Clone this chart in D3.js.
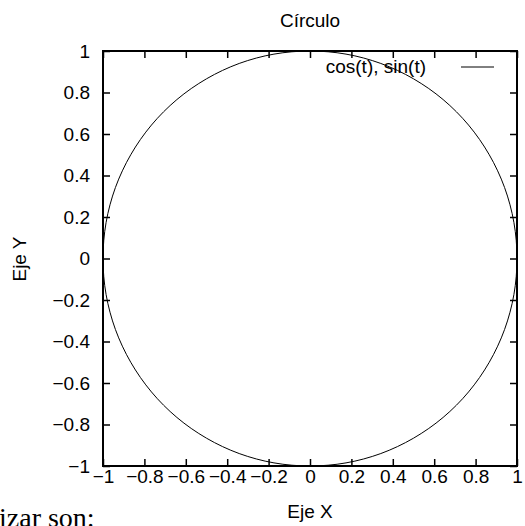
<!DOCTYPE html>
<html>
<head>
<meta charset="utf-8">
<script src="https://cdn.jsdelivr.net/npm/d3@7"></script>
<style>
    html, body { margin: 0; padding: 0; background: #fff; }
    svg { display: block; font-family: "Liberation Sans", Arial, sans-serif; }
</style>
</head>
<body>
<svg id="chart" width="525" height="526"></svg>
<script>
// Tick values for both axes.
const xTicks = [-1, -0.8, -0.6, -0.4, -0.2, 0, 0.2, 0.4, 0.6, 0.8, 1];
const yTicks = [-1, -0.8, -0.6, -0.4, -0.2, 0, 0.2, 0.4, 0.6, 0.8, 1];

// The curve "cos(t), sin(t)", one point every 10 degrees.
const curveX = [1, 0.985, 0.940, 0.866, 0.766, 0.643, 0.500, 0.342, 0.174,
    0, -0.174, -0.342, -0.500, -0.643, -0.766, -0.866, -0.940, -0.985,
    -1, -0.985, -0.940, -0.866, -0.766, -0.643, -0.500, -0.342, -0.174,
    0, 0.174, 0.342, 0.500, 0.643, 0.766, 0.866, 0.940, 0.985];
const curveY = [0, 0.174, 0.342, 0.500, 0.643, 0.766, 0.866, 0.940, 0.985,
    1, 0.985, 0.940, 0.866, 0.766, 0.643, 0.500, 0.342, 0.174,
    0, -0.174, -0.342, -0.500, -0.643, -0.766, -0.866, -0.940, -0.985,
    -1, -0.985, -0.940, -0.866, -0.766, -0.643, -0.500, -0.342, -0.174];

const seriesLabel = 'cos(t), sin(t)';

// Plot frame in pixels.
const frame = { left: 103, right: 517, top: 51, bottom: 466 };
const fontSize = 19;
const tickLen = 7;

const svg = d3.select('#chart');

const x = d3.scaleLinear().domain([-1, 1]).range([frame.left, frame.right]);
const y = d3.scaleLinear().domain([-1, 1]).range([frame.bottom, frame.top]);
const fmt = d3.format('~g');

// Bottom axis with labels, ticks pointing inward.
const gx = svg.append('g')
    .attr('transform', `translate(0,${frame.bottom})`)
    .call(d3.axisBottom(x).tickValues(xTicks).tickFormat(fmt).tickSize(-tickLen).tickPadding(3));

// Left axis with labels.
const gy = svg.append('g')
    .attr('transform', `translate(${frame.left},0)`)
    .call(d3.axisLeft(y).tickValues(yTicks).tickFormat(fmt).tickSize(-tickLen).tickPadding(13));

// Mirror ticks on top and right, no labels.
const gxt = svg.append('g')
    .attr('transform', `translate(0,${frame.top})`)
    .call(d3.axisTop(x).tickValues(xTicks).tickFormat('').tickSize(-tickLen));
const gyr = svg.append('g')
    .attr('transform', `translate(${frame.right},0)`)
    .call(d3.axisRight(y).tickValues(yTicks).tickFormat('').tickSize(-tickLen));

[gx, gy, gxt, gyr].forEach(g => {
    g.select('.domain').remove();
    g.selectAll('.tick line').attr('stroke', '#000').attr('stroke-width', 1.5);
    g.selectAll('.tick text')
        .attr('fill', '#000')
        .style('font-size', fontSize + 'px')
        .style('font-family', '"Liberation Sans", Arial, sans-serif');
});

// The frame around the plot.
svg.append('rect')
    .attr('x', frame.left)
    .attr('y', frame.top)
    .attr('width', frame.right - frame.left)
    .attr('height', frame.bottom - frame.top)
    .attr('fill', 'none')
    .attr('stroke', '#000')
    .attr('stroke-width', 2);

// The circle itself.
const points = curveX.map((v, i) => [v, curveY[i]]);
const line = d3.line()
    .x(d => x(d[0]))
    .y(d => y(d[1]))
    .curve(d3.curveCatmullRomClosed);

svg.append('path')
    .datum(points)
    .attr('d', line)
    .attr('fill', 'none')
    .attr('stroke', '#000')
    .attr('stroke-width', 1);

// Title and axis labels.
svg.append('text')
    .attr('x', 310)
    .attr('y', 27)
    .attr('text-anchor', 'middle')
    .style('font-size', fontSize + 'px')
    .text('Círculo');

svg.append('text')
    .attr('x', 310)
    .attr('y', 518)
    .attr('text-anchor', 'middle')
    .style('font-size', fontSize + 'px')
    .text('Eje X');

svg.append('text')
    .attr('transform', 'translate(26,259) rotate(-90)')
    .attr('text-anchor', 'middle')
    .style('font-size', fontSize + 'px')
    .text('Eje Y');

// Legend in the top right corner.
svg.append('text')
    .attr('x', 426)
    .attr('y', 73)
    .attr('text-anchor', 'end')
    .style('font-size', fontSize + 'px')
    .text(seriesLabel);

svg.append('line')
    .attr('x1', 461)
    .attr('x2', 494)
    .attr('y1', 67)
    .attr('y2', 67)
    .attr('stroke', '#000')
    .attr('stroke-width', 1);

// Leftover text from the page the figure was cut from.
svg.append('text')
    .attr('x', -1)
    .attr('y', 527)
    .style('font-family', '"Liberation Serif", "DejaVu Serif", serif')
    .style('font-size', '28px')
    .text('izar son:');
</script>
</body>
</html>
